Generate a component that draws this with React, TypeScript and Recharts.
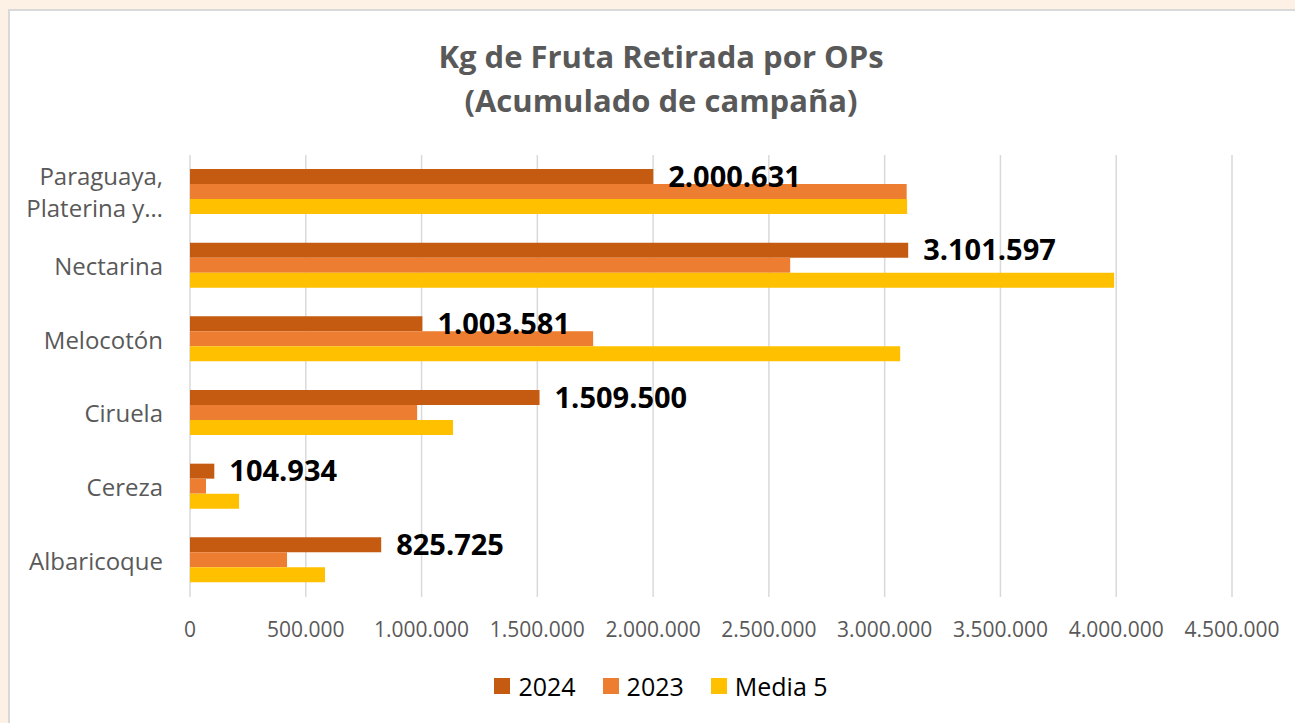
import React from 'react';
import { BarChart, Bar, XAxis, YAxis, CartesianGrid, LabelList } from 'recharts';

// Values (2024 values from the data labels)
const categories = ['Paraguaya,\nPlaterina y…', 'Nectarina', 'Melocotón', 'Ciruela', 'Cereza', 'Albaricoque'];
const values2024 = [2000631, 3101597, 1003581, 1509500, 104934, 825725];
const values2023 = [3095000, 2592000, 1741000, 981000, 69000, 419000];
const valuesMedia5 = [3097000, 3991000, 3067000, 1136000, 212000, 583000];
const xTicks = [0, 500000, 1000000, 1500000, 2000000, 2500000, 3000000, 3500000, 4000000, 4500000];

const seriesKeys = ['y2024', 'y2023', 'media5'];
const seriesNames = ['2024', '2023', 'Media 5'];
const seriesColors = ['#C55A11', '#ED7D31', '#FFC000'];

const data = categories.map((name, i) => ({
  name,
  y2024: values2024[i],
  y2023: values2023[i],
  media5: valuesMedia5[i],
}));

const fmt = (v: number) => String(Math.round(v)).replace(/\B(?=(\d{3})+(?!\d))/g, '.');

const FONT = '"Open Sans", sans-serif';

const CategoryTick = (props: any) => {
  const { x, y, payload } = props;
  const lines = String(payload.value).split('\n');
  const lh = 32;
  const start = y - ((lines.length - 1) * lh) / 2;
  return (
    <text x={x} y={start} textAnchor="end" fill="#595959" fontSize={24} fontFamily={FONT}>
      {lines.map((l, i) => (
        <tspan key={i} x={x} y={start + i * lh} dominantBaseline="central">
          {l}
        </tspan>
      ))}
    </text>
  );
};

const App = () => {
  return (
    <div style={{ position: 'absolute', left: 0, top: 0, width: 1295, height: 723, overflow: 'hidden', background: '#FDF1E6' }}>
      <div
        style={{
          position: 'absolute',
          left: 8,
          top: 9,
          width: 1400,
          height: 800,
          background: '#FFFFFF',
          borderLeft: '2px solid #D9D9D9',
          borderTop: '2px solid #D9D9D9',
        }}
      />
      <div
        style={{
          position: 'absolute',
          left: 9,
          top: 34,
          width: 1304,
          textAlign: 'center',
          fontFamily: FONT,
          fontWeight: 700,
          fontSize: 31,
          lineHeight: '44px',
          color: '#595959',
        }}
      >
        Kg de Fruta Retirada por OPs
        <br />
        (Acumulado de campaña)
      </div>
      <div style={{ position: 'absolute', left: 0, top: 0 }}>
        <BarChart
          width={1295}
          height={723}
          data={data}
          layout="vertical"
          margin={{ top: 155, right: 63, bottom: 86, left: 0 }}
          barGap={0}
          barSize={15}
        >
          <CartesianGrid horizontal={false} stroke="#D9D9D9" strokeWidth={1.5} />
          <XAxis
            type="number"
            domain={[0, 4500000]}
            ticks={xTicks}
            tickFormatter={fmt}
            axisLine={false}
            tickLine={false}
            tickSize={0}
            tickMargin={25}
            height={40}
            interval={0}
            tick={{ fill: '#595959', fontSize: 21, fontFamily: FONT }}
          />
          <YAxis
            type="category"
            dataKey="name"
            width={190}
            axisLine={false}
            tickLine={false}
            tickSize={0}
            tickMargin={27}
            interval={0}
            tick={<CategoryTick />}
          />
          {seriesKeys.map((k, i) => (
            <Bar key={k} dataKey={k} name={seriesNames[i]} fill={seriesColors[i]} isAnimationActive={false}>
              {i === 0 && (
                <LabelList
                  dataKey={k}
                  position="right"
                  offset={15}
                  formatter={(v: any) => fmt(Number(v))}
                  fill="#000000"
                  fontSize={29}
                  fontWeight={700}
                  fontFamily={FONT}
                />
              )}
            </Bar>
          ))}
        </BarChart>
      </div>
      <div
        style={{
          position: 'absolute',
          left: 9,
          top: 670,
          width: 1304,
          display: 'flex',
          justifyContent: 'center',
          gap: 27,
          fontFamily: FONT,
          fontSize: 25,
          color: '#000000',
        }}
      >
        {seriesNames.map((n, i) => (
          <div key={n} style={{ display: 'flex', alignItems: 'center', gap: 8 }}>
            <div style={{ width: 16, height: 16, background: seriesColors[i] }} />
            <span style={{ lineHeight: '32px' }}>{n}</span>
          </div>
        ))}
      </div>
    </div>
  );
};

export default App;
